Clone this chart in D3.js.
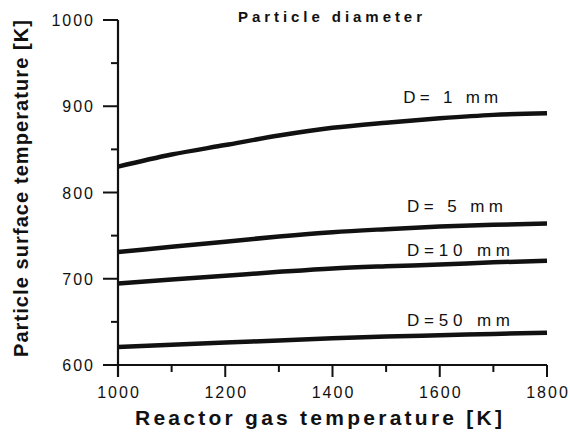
<!DOCTYPE html>
<html>
<head>
<meta charset="utf-8">
<script src="https://cdn.jsdelivr.net/npm/d3@7"></script>
<style>
  html, body { margin: 0; padding: 0; background: #fff; }
  svg { display: block; }
  text { font-family: "Liberation Sans", Arial, Helvetica, sans-serif; fill: #111; }
</style>
</head>
<body>
<svg id="chart" width="570" height="433"></svg>
<script>
// ---- data ----
const gasTemp = [1000, 1100, 1200, 1300, 1400, 1500, 1600, 1700, 1800];
const d1mm  = [830, 844, 855, 866, 875, 881, 886, 890, 892];
const d5mm  = [731, 737, 743, 749, 754, 757.5, 760.5, 762.5, 764];
const d10mm = [694.5, 699, 703.5, 708, 712, 714.5, 716.5, 719, 721];
const d50mm = [621, 623.5, 626, 628.5, 631, 633, 634.5, 636, 637.5];
const seriesNames = ["D= 1 mm", "D= 5 mm", "D=10 mm", "D=50 mm"];
const labelX = [1532, 1539, 1539, 1539];
const labelY = [903.5, 777.5, 726.5, 645.5];
const xTicks = [1000, 1200, 1400, 1600, 1800];
const xMinorTicks = [1100, 1300, 1500, 1700];
const yTicks = [600, 700, 800, 900, 1000];
const yMinorTicks = [650, 750, 850, 950];
const chartTitle = "Particle diameter";
const xTitle = "Reactor gas temperature [K]";
const yTitle = "Particle surface temperature [K]";

// ---- layout ----
const svg = d3.select("#chart");
const x = d3.scaleLinear().domain([1000, 1800]).range([118, 547]);
const y = d3.scaleLinear().domain([600, 1000]).range([365, 20]);

const series = [d1mm, d5mm, d10mm, d50mm];
const axisColor = "#111";

// y axis line (extends below to form the 1000 x-tick)
svg.append("line").attr("x1", x(1000)).attr("x2", x(1000))
  .attr("y1", y(1000)).attr("y2", y(600) + 12)
  .attr("stroke", axisColor).attr("stroke-width", 2.2);
// x axis line (extends left to form the 600 y-tick)
svg.append("line").attr("x1", x(1000) - 15).attr("x2", x(1800))
  .attr("y1", y(600)).attr("y2", y(600))
  .attr("stroke", axisColor).attr("stroke-width", 2.2);

// y ticks
svg.selectAll(".ytick").data(yTicks).enter().append("line")
  .attr("x1", x(1000) - 15).attr("x2", x(1000))
  .attr("y1", d => y(d)).attr("y2", d => y(d))
  .attr("stroke", axisColor).attr("stroke-width", 2);
svg.selectAll(".yminor").data(yMinorTicks).enter().append("line")
  .attr("x1", x(1000) - 7).attr("x2", x(1000))
  .attr("y1", d => y(d)).attr("y2", d => y(d))
  .attr("stroke", axisColor).attr("stroke-width", 2);
// x ticks
svg.selectAll(".xtick").data(xTicks).enter().append("line")
  .attr("x1", d => x(d)).attr("x2", d => x(d))
  .attr("y1", y(600)).attr("y2", y(600) + 12)
  .attr("stroke", axisColor).attr("stroke-width", 2);
svg.selectAll(".xminor").data(xMinorTicks).enter().append("line")
  .attr("x1", d => x(d)).attr("x2", d => x(d))
  .attr("y1", y(600)).attr("y2", y(600) + 7)
  .attr("stroke", axisColor).attr("stroke-width", 2);

// tick labels
svg.selectAll(".ylab").data(yTicks).enter().append("text")
  .attr("x", 95).attr("y", d => y(d) + 6)
  .attr("text-anchor", "end")
  .attr("font-size", 16)
  .style("letter-spacing", "2px")
  .text(d => d);
svg.selectAll(".xlab").data(xTicks).enter().append("text")
  .attr("x", d => x(d) + 1).attr("y", 398)
  .attr("text-anchor", "middle")
  .attr("font-size", 16)
  .style("letter-spacing", "2px")
  .text(d => d);

// axis titles
svg.append("text")
  .attr("x", 135).attr("y", 425)
  .attr("font-size", 21).attr("font-weight", "bold")
  .attr("textLength", 367).attr("lengthAdjust", "spacing")
  .text(xTitle);
svg.append("text")
  .attr("transform", "translate(28,357) rotate(-90)")
  .attr("font-size", 20).attr("font-weight", "bold")
  .attr("textLength", 337).attr("lengthAdjust", "spacing")
  .text(yTitle);

// chart title
svg.append("text")
  .attr("x", 238).attr("y", 22)
  .attr("font-size", 15).attr("font-weight", "bold")
  .attr("textLength", 184).attr("lengthAdjust", "spacing")
  .text(chartTitle);

// lines
const line = d3.line()
  .x((d, i) => x(gasTemp[i]))
  .y(d => y(d))
  .curve(d3.curveMonotoneX);

svg.selectAll(".series").data(series).enter().append("path")
  .attr("d", d => line(d))
  .attr("fill", "none")
  .attr("stroke", "#111")
  .attr("stroke-width", 4.5);

// series labels
const labelLen = [95, 96, 103, 103];
svg.selectAll(".slab").data(seriesNames).enter().append("text")
  .attr("x", (d, i) => x(labelX[i]))
  .attr("y", (d, i) => y(labelY[i]))
  .attr("font-size", 17)
  .attr("textLength", (d, i) => labelLen[i]).attr("lengthAdjust", "spacing")
  .text(d => d);
</script>
</body>
</html>
